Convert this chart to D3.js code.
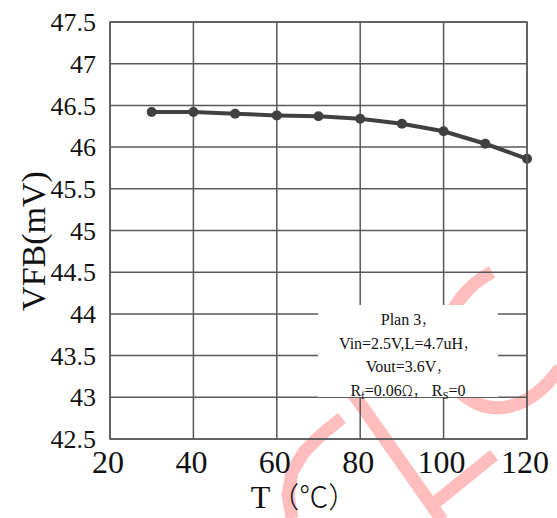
<!DOCTYPE html>
<html>
<head>
<meta charset="utf-8">
<script src="https://cdn.jsdelivr.net/npm/d3@7"></script>
<style>
  body { margin: 0; background: #fff; }
  text { font-family: "Liberation Serif", "Times New Roman", serif; fill: #111; }
  .cjk { font-family: "Noto Sans CJK SC", sans-serif; font-weight: 300; }
</style>
</head>
<body>
<div id="chart"></div>
<script>
var temps = [30, 40, 50, 60, 70, 80, 90, 100, 110, 120];
var vfb = [46.42, 46.42, 46.40, 46.38, 46.37, 46.34, 46.28, 46.19, 46.04, 45.86];
var xTicks = [20, 40, 60, 80, 100, 120];
var yTicks = [42.5, 43, 43.5, 44, 44.5, 45, 45.5, 46, 46.5, 47, 47.5];
var noteLines = ["Plan 3", "Vin=2.5V,L=4.7uH", "Vout=3.6V"];

var w = 557, h = 518;
var pLeft = 110, pRight = 527, pTop = 22, pBottom = 439;

var svg = d3.select("#chart").append("svg").attr("width", w).attr("height", h);

var x = d3.scaleLinear().domain([20, 120]).range([pLeft, pRight]);
var y = d3.scaleLinear().domain([42.5, 47.5]).range([pBottom, pTop]);

// watermark behind the chart
var wm = svg.append("g");
wm.append("polyline").attr("points", "292,518 288,495 292,472 304,452 322,434 342,418")
    .attr("fill", "none").attr("stroke", "#ffbdbd").attr("stroke-width", 13);
wm.append("line").attr("x1", 352).attr("y1", 392).attr("x2", 442).attr("y2", 520)
    .attr("stroke", "#ffbdbd").attr("stroke-width", 13);
wm.append("line").attr("x1", 436).attr("y1", 502).attr("x2", 494).attr("y2", 455)
    .attr("stroke", "#ffbdbd").attr("stroke-width", 13);
wm.append("path").attr("d", "M492,272 C440,300 430,360 460,392 C490,420 530,410 560,368")
    .attr("fill", "none").attr("stroke", "#ffbdbd").attr("stroke-width", 13);

// grid
var grid = svg.append("g").attr("stroke", "#595959").attr("stroke-width", 1.5);
grid.selectAll(".vg").data(xTicks).enter().append("line")
    .attr("x1", function(d){ return x(d); }).attr("x2", function(d){ return x(d); })
    .attr("y1", pTop).attr("y2", pBottom);
grid.selectAll(".hg").data(yTicks).enter().append("line")
    .attr("x1", pLeft).attr("x2", pRight)
    .attr("y1", function(d){ return y(d); }).attr("y2", function(d){ return y(d); });

// tick labels
svg.selectAll(".yl").data(yTicks).enter().append("text")
    .attr("x", 96).attr("y", function(d){ return y(d); }).attr("dy", "0.35em")
    .attr("text-anchor", "end").style("font-size", "26px")
    .text(function(d){ return d; });
svg.selectAll(".xl").data(xTicks).enter().append("text")
    .attr("x", function(d){ return x(d) - 2; }).attr("y", 473)
    .attr("text-anchor", "middle").style("font-size", "32px")
    .text(function(d){ return d; });

// axis titles
svg.append("text").attr("transform", "translate(45,241) rotate(-90)")
    .attr("text-anchor", "middle").style("font-size", "34px").text("VFB(mV)");
var xt = svg.append("text").attr("x", 304).attr("y", 508)
    .attr("text-anchor", "middle").style("font-size", "32px");
xt.append("tspan").text("T");
xt.append("tspan").attr("class", "cjk").style("font-size", "29px").text("（℃）");

// data line
var line = d3.line().x(function(d, i){ return x(temps[i]); }).y(function(d){ return y(d); });
svg.append("path").datum(vfb).attr("d", line)
    .attr("fill", "none").attr("stroke", "#404040").attr("stroke-width", 4);
svg.selectAll(".pt").data(vfb).enter().append("circle")
    .attr("cx", function(d, i){ return x(temps[i]); })
    .attr("cy", function(d){ return y(d); })
    .attr("r", 5).attr("fill", "#404040");

// annotation box
svg.append("rect").attr("x", 318).attr("y", 305).attr("width", 180).attr("height", 92).attr("fill", "#fff");
var note = svg.append("g").style("font-size", "16px");
note.selectAll(".nl").data(noteLines).enter().append("text")
    .attr("x", 408).attr("y", function(d, i){ return 325 + i * 23.5; })
    .attr("text-anchor", "middle")
    .each(function(d){
        var t = d3.select(this);
        t.append("tspan").text(d);
        t.append("tspan").attr("class", "cjk").style("font-size", "14px").text("，");
    });
var last = note.append("text").attr("x", 408).attr("y", 396).attr("text-anchor", "middle");
last.append("tspan").text("R");
last.append("tspan").attr("dy", 3).style("font-size", "11px").text("f");
last.append("tspan").attr("dy", -3).text("=0.06");
last.append("tspan").attr("class", "cjk").style("font-size", "15px").text("Ω，");
last.append("tspan").text(" R");
last.append("tspan").attr("dy", 3).style("font-size", "11px").text("S");
last.append("tspan").attr("dy", -3).text("=0");

// frame on top
svg.append("rect").attr("x", pLeft).attr("y", pTop).attr("width", pRight - pLeft).attr("height", pBottom - pTop)
    .attr("fill", "none").attr("stroke", "#595959").attr("stroke-width", 1.5);
</script>
</body>
</html>
